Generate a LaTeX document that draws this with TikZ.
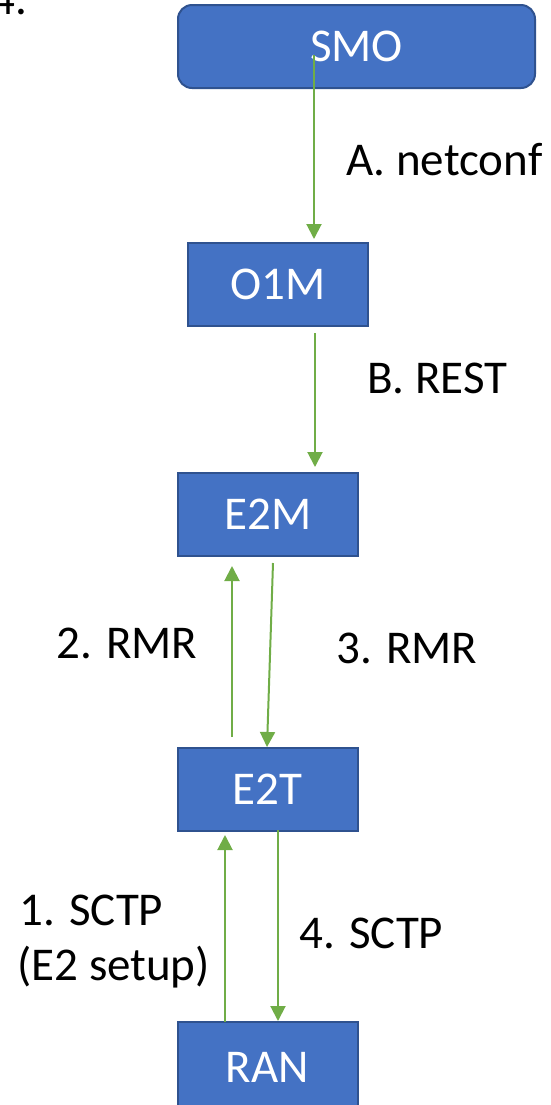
\documentclass[tikz,border=0pt]{standalone}
\usepackage{fontspec}
\setmainfont{Carlito}
\usetikzlibrary{arrows.meta}
\definecolor{boxfill}{HTML}{4472C4}
\definecolor{boxline}{HTML}{2F528F}
\definecolor{arrowgreen}{HTML}{70AD47}
\tikzset{
  blk/.style={draw=boxline, fill=boxfill, line width=1pt, text=white,
    minimum width=90pt, minimum height=41.5pt, inner sep=0pt,
    font=\fontsize{23.5}{28}\selectfont},
  lbl/.style={anchor=base west, inner sep=0pt, text=black,
    font=\fontsize{23.5}{28}\selectfont},
  flow/.style={draw=arrowgreen, line width=1pt,
    -{Triangle[width=7.5pt,length=7.5pt]}}
}
\begin{document}
\begin{tikzpicture}[x=0.5pt,y=-0.5pt]
\useasboundingbox (0,0) rectangle (551,1105);
% top-left cut-off text
\node[lbl] (four) at (-9,14) {4.};
% boxes
\node[blk, rounded corners=7pt, minimum width=178.5pt] (smo) at (356.5,46.5) {SMO};
\node[blk] (o1m) at (278,284.5) {O1M};
\node[blk] (e2m) at (268,514.5) {E2M};
\node[blk] (e2t) at (267.5,789) {E2T};
\node[blk, minimum height=45pt] (ran) at (267.5,1067) {RAN};
% connector end points
\coordinate (a0) at (314,55);
\coordinate (a1) at (314,239);
\coordinate (b0) at (315,333);
\coordinate (b1) at (315,467);
\coordinate (c0) at (232,737);
\coordinate (c1) at (232,566);
\coordinate (d0) at (273,563);
\coordinate (d1) at (267,747);
\coordinate (e0) at (225,1022);
\coordinate (e1) at (225,835);
\coordinate (f0) at (278,830);
\coordinate (f1) at (278,1021);
% connectors
\draw[flow] (a0) -- (a1);
\draw[flow] (b0) -- (b1);
\draw[flow] (c0) -- (c1);
\draw[flow] (d0) -- (d1);
\draw[flow] (e0) -- (e1);
\draw[flow] (f0) -- (f1);
% labels
\node[lbl] (la) at (346,175) {A. netconf};
\node[lbl] (lb) at (367,393) {B. REST};
\node[lbl] (l2) at (56,658) {2. RMR};
\node[lbl] (l3) at (336,663) {3. RMR};
\node[lbl] (l1a) at (19,925) {1. SCTP};
\node[lbl] (l1b) at (17,980) {(E2 setup)};
\node[lbl] (l4) at (299,948) {4. SCTP};
\end{tikzpicture}
\end{document}
